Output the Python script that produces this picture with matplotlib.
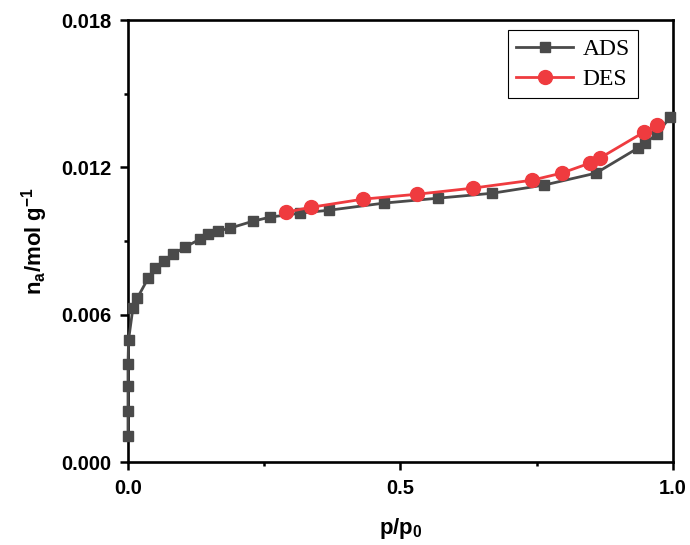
import matplotlib.pyplot as plt
from matplotlib.ticker import MultipleLocator, FormatStrFormatter

ads_p = [0.0, 0.0, 0.0, 0.0, 0.001, 0.009, 0.017, 0.037, 0.050, 0.066, 0.083, 0.105,
         0.132, 0.147, 0.165, 0.187, 0.229, 0.261, 0.316, 0.369, 0.470, 0.569, 0.668,
         0.763, 0.859, 0.936, 0.949, 0.971, 0.995]
ads_n = [0.00106, 0.00208, 0.00310, 0.00399, 0.00497, 0.00627, 0.00668, 0.00749, 0.00790,
         0.00819, 0.00847, 0.00876, 0.00908, 0.00928, 0.00941, 0.00953, 0.00981, 0.00998,
         0.01014, 0.01026, 0.01055, 0.01075, 0.01095, 0.01128, 0.01177, 0.01279, 0.01299,
         0.01336, 0.01405]

des_p = [0.290, 0.336, 0.431, 0.530, 0.633, 0.741, 0.796, 0.848, 0.866, 0.947, 0.971]
des_n = [0.01018, 0.01038, 0.01071, 0.01091, 0.01116, 0.01148, 0.01177, 0.01218, 0.01238,
         0.01344, 0.01372]

plt.rcParams['font.family'] = ['Liberation Sans', 'DejaVu Sans']
plt.rcParams['mathtext.fontset'] = 'custom'
plt.rcParams['mathtext.bf'] = 'Liberation Sans:bold'
plt.rcParams['mathtext.rm'] = 'Liberation Sans:bold'

fig = plt.figure(figsize=(6.9, 5.45), dpi=100)
ax = fig.add_axes([0.1855, 0.152, 0.7895, 0.811])

ax.plot(ads_p, ads_n, color='#4a4a4a', lw=2, marker='s', ms=7.5, label='ADS', clip_on=False, zorder=3)
ax.plot(des_p, des_n, color='#ef3b3f', lw=2, marker='o', ms=10, label='DES', clip_on=False, zorder=4)

ax.set_xlim(0, 1.0)
ax.set_ylim(0, 0.018)
ax.xaxis.set_major_locator(MultipleLocator(0.5))
ax.xaxis.set_minor_locator(MultipleLocator(0.25))
ax.yaxis.set_major_locator(MultipleLocator(0.006))
ax.yaxis.set_minor_locator(MultipleLocator(0.003))
ax.xaxis.set_major_formatter(FormatStrFormatter('%.1f'))
ax.yaxis.set_major_formatter(FormatStrFormatter('%.3f'))
ax.tick_params(which='major', direction='out', length=6, width=1.8, labelsize=14.5, pad=6)
ax.tick_params(which='minor', direction='out', length=3, width=1.8)
for lab in ax.get_xticklabels() + ax.get_yticklabels():
    lab.set_fontweight('bold')
for s in ax.spines.values():
    s.set_linewidth(1.9)

ax.set_xlabel(r'p/p$_{\mathbf{0}}$', fontsize=16, fontweight='bold', labelpad=13)
ax.set_ylabel(r'n$_{\mathbf{a}}$/mol g$^{\mathbf{-1}}$', fontsize=16, fontweight='bold', labelpad=8)

leg = ax.legend(loc='upper right', bbox_to_anchor=(0.936, 0.977), borderaxespad=0,
                fancybox=False, edgecolor='black', framealpha=1, handlelength=2.4,
                prop={'family': 'Liberation Serif', 'size': 17}, labelspacing=0.35,
                borderpad=0.35, handletextpad=0.4)
leg.get_frame().set_linewidth(0.8)

plt.savefig('out.png')
